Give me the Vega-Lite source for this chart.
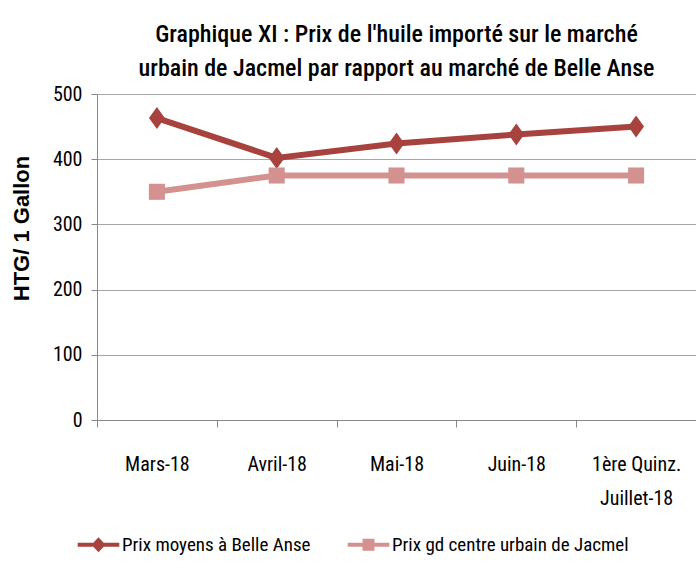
{
  "$schema": "https://vega.github.io/schema/vega-lite/v6.json",
  "autosize": "none",
  "width": 599,
  "height": 326,
  "padding": {"left": 97, "top": 94, "right": 0, "bottom": 163},
  "background": "white",
  "title": {
    "text": ["Graphique XI : Prix de l'huile importé sur le marché", "urbain de Jacmel par rapport au marché de Belle Anse"],
    "font": "Roboto Condensed, Liberation Sans Narrow, Arial Narrow, sans-serif",
    "fontSize": 24,
    "fontWeight": 500,
    "lineHeight": 34,
    "color": "#000000",
    "anchor": "middle",
    "offset": 3
  },
  "data": {
    "values": [
      {"mois": "Mars-18", "serie": "Prix moyens à Belle Anse", "prix": 463},
      {"mois": "Avril-18", "serie": "Prix moyens à Belle Anse", "prix": 402},
      {"mois": "Mai-18", "serie": "Prix moyens à Belle Anse", "prix": 424},
      {"mois": "Juin-18", "serie": "Prix moyens à Belle Anse", "prix": 438},
      {"mois": "1ère Quinz. Juillet-18", "serie": "Prix moyens à Belle Anse", "prix": 450},
      {"mois": "Mars-18", "serie": "Prix gd centre urbain de Jacmel", "prix": 350},
      {"mois": "Avril-18", "serie": "Prix gd centre urbain de Jacmel", "prix": 375},
      {"mois": "Mai-18", "serie": "Prix gd centre urbain de Jacmel", "prix": 375},
      {"mois": "Juin-18", "serie": "Prix gd centre urbain de Jacmel", "prix": 375},
      {"mois": "1ère Quinz. Juillet-18", "serie": "Prix gd centre urbain de Jacmel", "prix": 375}
    ]
  },
  "encoding": {
    "x": {
      "field": "mois",
      "type": "nominal",
      "sort": ["Mars-18", "Avril-18", "Mai-18", "Juin-18", "1ère Quinz. Juillet-18"],
      "scale": {"paddingInner": 0, "paddingOuter": 0},
      "axis": {
        "title": null,
        "labelAngle": 0,
        "labelFont": "Roboto Condensed, Liberation Sans Narrow, Arial Narrow, sans-serif",
        "labelFontSize": 20,
        "labelFontWeight": "normal",
        "labelColor": "#000000",
        "labelPadding": 27,
        "labelLineHeight": 34,
        "labelExpr": "datum.value == '1ère Quinz. Juillet-18' ? ['1ère Quinz.', 'Juillet-18'] : datum.value",
        "tickBand": "extent",
        "tickSize": 7,
        "tickColor": "#888888",
        "domainColor": "#888888",
        "grid": false
      }
    },
    "y": {
      "field": "prix",
      "type": "quantitative",
      "scale": {"domain": [0, 500], "nice": false},
      "axis": {
        "title": "HTG/ 1 Gallon",
        "titleFont": "Liberation Sans, Arial, sans-serif",
        "titleFontSize": 22,
        "titleFontWeight": "bold",
        "titleColor": "#000000",
        "titlePadding": 19,
        "titleY": 134,
        "values": [0, 100, 200, 300, 400, 500],
        "labelFont": "Roboto Condensed, Liberation Sans Narrow, Arial Narrow, sans-serif",
        "labelFontSize": 20,
        "labelFontWeight": "normal",
        "labelColor": "#000000",
        "labelPadding": 9,
        "tickSize": 6,
        "tickColor": "#888888",
        "domainColor": "#888888",
        "grid": true,
        "gridColor": "#A6A6A6",
        "gridWidth": 1
      }
    },
    "color": {
      "field": "serie",
      "type": "nominal",
      "scale": {
        "domain": ["Prix moyens à Belle Anse", "Prix gd centre urbain de Jacmel"],
        "range": ["#A8423F", "#D39190"]
      },
      "legend": {
        "title": null,
        "orient": "none",
        "direction": "horizontal",
        "legendX": -8,
        "legendY": 441,
        "labelFont": "Roboto Condensed, Liberation Sans Narrow, Arial Narrow, sans-serif",
        "labelFontSize": 19,
        "labelColor": "#000000",
        "labelLimit": 400,
        "symbolSize": 256,
        "labelOffset": 14,
        "columnPadding": 36,
        "symbolStrokeWidth": 0,
        "encode": {
          "symbols": {
            "update": {
              "shape": {"signal": "datum.value == 'Prix moyens à Belle Anse' ? 'M-2.6,-0.25L-0.65,-0.25L0,-0.95L0.65,-0.25L2.6,-0.25L2.6,0.25L0.65,0.25L0,0.95L-0.65,0.25L-2.6,0.25Z' : 'M-2.6,-0.25L-0.75,-0.25L-0.75,-0.75L0.75,-0.75L0.75,-0.25L2.6,-0.25L2.6,0.25L0.75,0.25L0.75,0.75L-0.75,0.75L-0.75,0.25L-2.6,0.25Z'"},
              "fill": {"signal": "scale('color', datum.value)"},
              "fillOpacity": {"value": 1},
              "strokeWidth": {"value": 0}
            }
          }
        }
      }
    }
  },
  "layer": [
    {
      "mark": {"type": "line", "strokeWidth": 6}
    },
    {
      "transform": [{"filter": "datum.serie == 'Prix moyens à Belle Anse'"}],
      "mark": {"type": "point", "filled": true, "opacity": 1, "size": 484, "shape": "M0,-1L0.72,0L0,1L-0.72,0Z"}
    },
    {
      "transform": [{"filter": "datum.serie == 'Prix gd centre urbain de Jacmel'"}],
      "mark": {"type": "point", "filled": true, "opacity": 1, "size": 484, "shape": "M-0.73,-0.73L0.73,-0.73L0.73,0.73L-0.73,0.73Z"}
    }
  ],
  "config": {
    "view": {"stroke": null}
  }
}
